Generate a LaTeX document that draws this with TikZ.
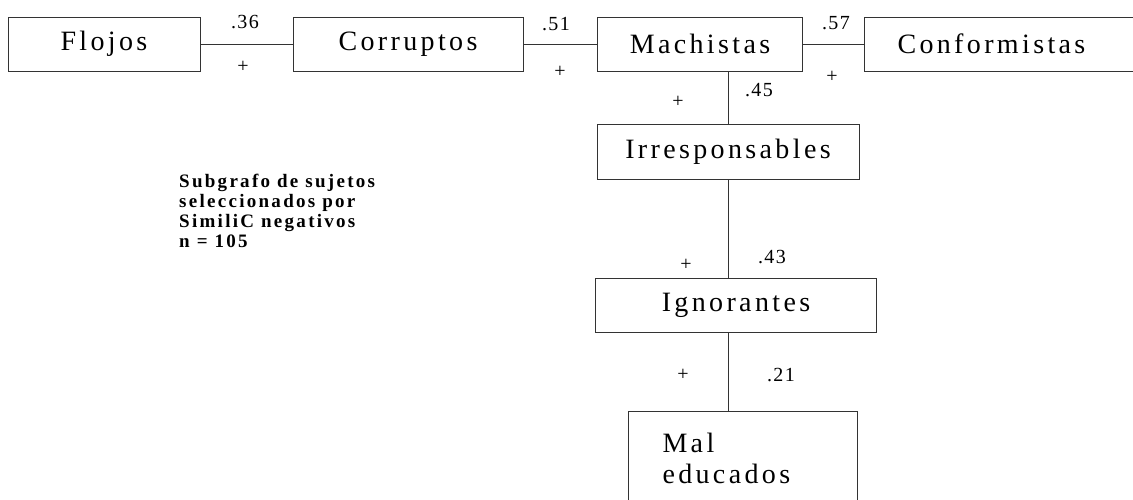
\documentclass[tikz,border=0pt]{standalone}
\usepackage{fontspec}
\setmainfont{Liberation Serif}
\usetikzlibrary{positioning}

\begin{document}
\begin{tikzpicture}[x=1pt, y=-1pt,
  box/.style={draw=black!80, line width=0.7pt, minimum height=54pt, inner sep=0pt, font=\fontsize{28}{31}\selectfont\addfontfeature{LetterSpace=12}},
  coef/.style={font=\fontsize{20}{22}\selectfont\addfontfeature{LetterSpace=7}},
  sgn/.style={font=\fontsize{20}{22}\selectfont},
  lnk/.style={draw=black!80, line width=0.7pt}
]
  \useasboundingbox (0,0) rectangle (1133,500);
  \clip (0,0) rectangle (1133,500);
  % fila superior
  \node[box, minimum width=192pt] (flo) at (104,44) {Flojos};
  \node[box, minimum width=230pt] (cor) at (408,44) {Corruptos};
  \node[box, minimum width=205pt] (mac) at (700,44) {Machistas};
  \node[box, text width=205pt, inner xsep=33pt, align=left] (con) at (1000,44) {Conformistas};
  % columna
  \node[box, minimum width=262pt, minimum height=55pt] (irr) at (728,152) {Irresponsables};
  \node[box, minimum width=281pt] (ign) at (736,305) {Ignorantes};
  \node[box, text width=161pt, inner xsep=34pt, minimum height=94pt, align=left, anchor=north] (mal) at (743,411) {Mal\\educados};
  % enlaces
  \draw[lnk] (flo) -- (cor);
  \draw[lnk] (cor) -- (mac);
  \draw[lnk] (mac) -- (con);
  \draw[lnk] (irr.north) -- (irr.north |- mac.south);
  \draw[lnk] (irr.south) -- (irr.south |- ign.north);
  \draw[lnk] (ign.south -| irr.center) -- (mal.north -| irr.center);
  % coeficientes
  \node[coef] (c1) at (245,22) {.36};
  \node[coef] (c2) at (556,24) {.51};
  \node[coef] (c3) at (836,23) {.57};
  \node[coef] (c4) at (759,90) {.45};
  \node[coef] (c5) at (772,257) {.43};
  \node[coef] (c6) at (781,375) {.21};
  \node[sgn] (s1) at (243,67) {+};
  \node[sgn] (s2) at (560,72) {+};
  \node[sgn] (s3) at (832,77) {+};
  \node[sgn] (s4) at (678,102) {+};
  \node[sgn] (s5) at (686,265) {+};
  \node[sgn] (s6) at (683,375) {+};
  % nota
  \node[font=\fontsize{19}{20}\selectfont\bfseries\addfontfeature{LetterSpace=12}, align=left, anchor=north west, inner sep=0pt] (nota) at (179,174)
    {Subgrafo de sujetos\\seleccionados por\\SimiliC negativos\\n = 105};
\end{tikzpicture}
\end{document}
